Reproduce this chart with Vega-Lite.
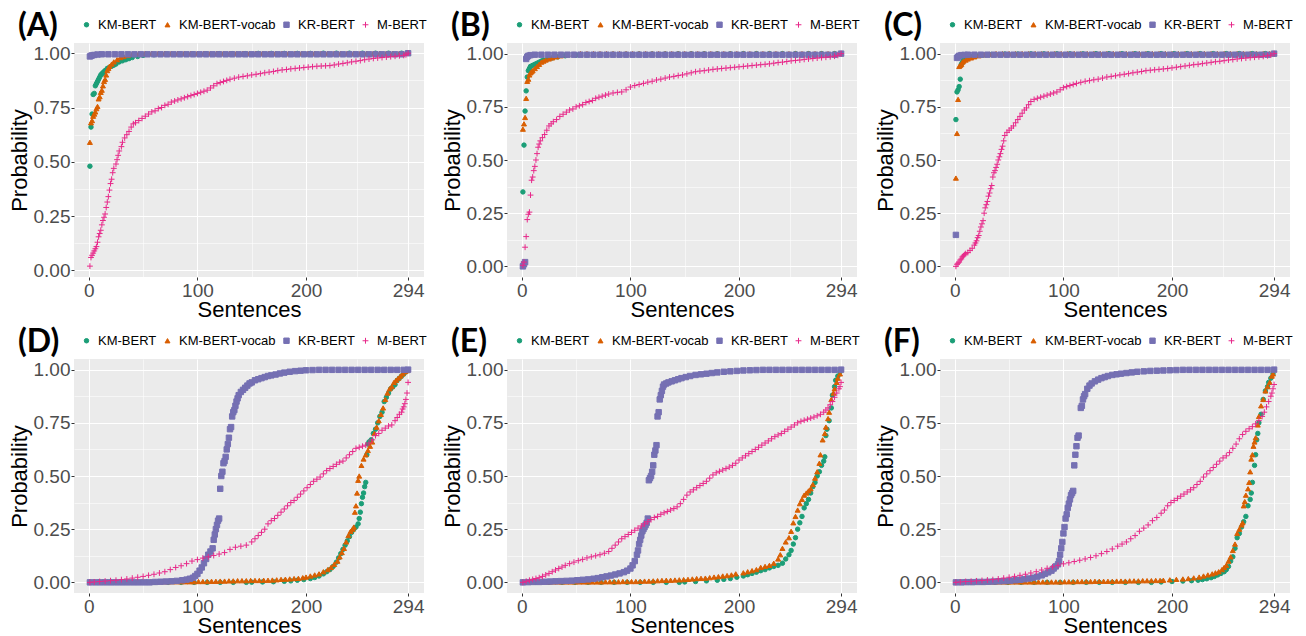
{
"$schema":"https://vega.github.io/schema/vega-lite/v6.json",
"autosize":{"type":"none"},
"padding":{"left":74,"top":43,"right":1232,"bottom":593},
"background":"white",
"config":{
 "view":{"fill":"#EBEBEB","stroke":null},
 "axis":{"domain":false,"labelFont":"Liberation Sans","labelFontSize":19,"labelColor":"#4D4D4D","titleFont":"Liberation Sans","titleFontSize":22,"titleFontWeight":"normal","titleColor":"#000000","tickColor":"#333333","tickSize":3,"tickWidth":1,"gridColor":"#FFFFFF","labelPadding":1},
 "axisX":{"titlePadding":-1},
 "axisY":{"titlePadding":2},
 "legend":{"labelFont":"Liberation Sans","labelFontSize":13,"labelColor":"#000000","symbolSize":36,"symbolStrokeWidth":1,"columnPadding":4,"labelOffset":5,"padding":0},
 "title":{"anchor":"start","frame":"bounds","font":"Lato","fontSize":32,"fontWeight":"bold","color":"#000000","offset":0,"baseline":"alphabetic","dy":29,"dx":10}
},
"datasets":{
"A":[
{"s":"a","x":1,"y":0.48},{"s":"a","x":2,"y":0.66},{"s":"a","x":3,"y":0.72},{"s":"a","x":4,"y":0.81},{"s":"a","x":5,"y":0.815},{"s":"a","x":6,"y":0.85},{"s":"a","x":7,"y":0.86},{"s":"a","x":8,"y":0.87},{"s":"a","x":9,"y":0.88},{"s":"a","x":10,"y":0.89},{"s":"a","x":11,"y":0.9},{"s":"a","x":12,"y":0.905},{"s":"a","x":13,"y":0.91},{"s":"a","x":14,"y":0.915},{"s":"a","x":15,"y":0.92},{"s":"a","x":17,"y":0.93},{"s":"a","x":19,"y":0.935},{"s":"a","x":21,"y":0.94},{"s":"a","x":23,"y":0.945},{"s":"a","x":25,"y":0.95},{"s":"a","x":28,"y":0.96},{"s":"a","x":31,"y":0.965},{"s":"a","x":34,"y":0.97},{"s":"a","x":37,"y":0.975},{"s":"a","x":40,"y":0.98},{"s":"a","x":45,"y":0.985},{"s":"a","x":50,"y":0.99},{"s":"a","x":60,"y":0.993},{"s":"a","x":72,"y":0.995},{"s":"a","x":84,"y":0.996},{"s":"a","x":96,"y":0.997},{"s":"a","x":108,"y":0.997},{"s":"a","x":120,"y":0.998},{"s":"a","x":132,"y":0.998},{"s":"a","x":144,"y":0.998},{"s":"a","x":156,"y":0.999},{"s":"a","x":168,"y":0.999},{"s":"a","x":180,"y":0.999},{"s":"a","x":192,"y":0.999},{"s":"a","x":204,"y":0.999},{"s":"a","x":216,"y":1},{"s":"a","x":228,"y":1},{"s":"a","x":240,"y":1},{"s":"a","x":252,"y":1},{"s":"a","x":264,"y":1},{"s":"a","x":276,"y":1},{"s":"a","x":288,"y":1},{"s":"a","x":294,"y":1},
{"s":"b","x":1,"y":0.59},{"s":"b","x":2,"y":0.68},{"s":"b","x":3,"y":0.69},{"s":"b","x":4,"y":0.71},{"s":"b","x":5,"y":0.72},{"s":"b","x":6,"y":0.73},{"s":"b","x":7,"y":0.745},{"s":"b","x":8,"y":0.755},{"s":"b","x":9,"y":0.79},{"s":"b","x":10,"y":0.8},{"s":"b","x":11,"y":0.82},{"s":"b","x":12,"y":0.83},{"s":"b","x":13,"y":0.85},{"s":"b","x":14,"y":0.87},{"s":"b","x":15,"y":0.88},{"s":"b","x":16,"y":0.9},{"s":"b","x":17,"y":0.92},{"s":"b","x":18,"y":0.93},{"s":"b","x":19,"y":0.94},{"s":"b","x":21,"y":0.95},{"s":"b","x":23,"y":0.96},{"s":"b","x":26,"y":0.97},{"s":"b","x":29,"y":0.98},{"s":"b","x":32,"y":0.985},{"s":"b","x":36,"y":0.99},{"s":"b","x":40,"y":0.995},{"s":"b","x":46,"y":0.998},{"s":"b","x":52,"y":1},{"s":"b","x":58,"y":1},{"s":"b","x":64,"y":1},{"s":"b","x":70,"y":1},{"s":"b","x":76,"y":1},{"s":"b","x":82,"y":1},{"s":"b","x":88,"y":1},{"s":"b","x":94,"y":1},{"s":"b","x":100,"y":1},{"s":"b","x":106,"y":1},{"s":"b","x":112,"y":1},{"s":"b","x":118,"y":1},{"s":"b","x":124,"y":1},{"s":"b","x":130,"y":1},{"s":"b","x":136,"y":1},{"s":"b","x":142,"y":1},{"s":"b","x":148,"y":1},{"s":"b","x":154,"y":1},{"s":"b","x":160,"y":1},{"s":"b","x":166,"y":1},{"s":"b","x":172,"y":1},{"s":"b","x":178,"y":1},{"s":"b","x":184,"y":1},{"s":"b","x":190,"y":1},{"s":"b","x":196,"y":1},{"s":"b","x":202,"y":1},{"s":"b","x":208,"y":1},{"s":"b","x":214,"y":1},{"s":"b","x":220,"y":1},{"s":"b","x":226,"y":1},{"s":"b","x":232,"y":1},{"s":"b","x":238,"y":1},{"s":"b","x":244,"y":1},{"s":"b","x":250,"y":1},{"s":"b","x":256,"y":1},{"s":"b","x":262,"y":1},{"s":"b","x":268,"y":1},{"s":"b","x":274,"y":1},{"s":"b","x":280,"y":1},{"s":"b","x":286,"y":1},{"s":"b","x":292,"y":1},{"s":"b","x":294,"y":1},
{"s":"c","x":1,"y":0.985},{"s":"c","x":2,"y":0.988},{"s":"c","x":3,"y":0.99},{"s":"c","x":5,"y":0.992},{"s":"c","x":8,"y":0.994},{"s":"c","x":12,"y":0.995},{"s":"c","x":18,"y":0.995},{"s":"c","x":24,"y":0.995},{"s":"c","x":30,"y":0.995},{"s":"c","x":36,"y":0.995},{"s":"c","x":42,"y":0.995},{"s":"c","x":48,"y":0.995},{"s":"c","x":54,"y":0.995},{"s":"c","x":60,"y":0.995},{"s":"c","x":66,"y":0.995},{"s":"c","x":72,"y":0.995},{"s":"c","x":78,"y":0.995},{"s":"c","x":84,"y":0.995},{"s":"c","x":90,"y":0.995},{"s":"c","x":96,"y":0.995},{"s":"c","x":102,"y":0.995},{"s":"c","x":108,"y":0.995},{"s":"c","x":114,"y":0.995},{"s":"c","x":120,"y":0.995},{"s":"c","x":126,"y":0.995},{"s":"c","x":132,"y":0.995},{"s":"c","x":138,"y":0.995},{"s":"c","x":144,"y":0.995},{"s":"c","x":150,"y":0.995},{"s":"c","x":156,"y":0.995},{"s":"c","x":162,"y":0.995},{"s":"c","x":168,"y":0.995},{"s":"c","x":174,"y":0.995},{"s":"c","x":180,"y":0.995},{"s":"c","x":186,"y":0.995},{"s":"c","x":192,"y":0.995},{"s":"c","x":198,"y":0.995},{"s":"c","x":204,"y":0.995},{"s":"c","x":210,"y":0.995},{"s":"c","x":216,"y":0.995},{"s":"c","x":222,"y":0.995},{"s":"c","x":228,"y":0.995},{"s":"c","x":234,"y":0.995},{"s":"c","x":240,"y":0.995},{"s":"c","x":246,"y":0.995},{"s":"c","x":252,"y":0.995},{"s":"c","x":258,"y":0.995},{"s":"c","x":264,"y":0.995},{"s":"c","x":270,"y":0.995},{"s":"c","x":276,"y":0.995},{"s":"c","x":282,"y":0.995},{"s":"c","x":288,"y":0.995},{"s":"c","x":294,"y":1},
{"s":"d","x":1,"y":0.02},{"s":"d","x":2,"y":0.06},{"s":"d","x":3,"y":0.07},{"s":"d","x":4,"y":0.08},{"s":"d","x":5,"y":0.09},{"s":"d","x":6,"y":0.1},{"s":"d","x":7,"y":0.11},{"s":"d","x":8,"y":0.13},{"s":"d","x":9,"y":0.155},{"s":"d","x":10,"y":0.17},{"s":"d","x":11,"y":0.185},{"s":"d","x":12,"y":0.21},{"s":"d","x":13,"y":0.23},{"s":"d","x":14,"y":0.245},{"s":"d","x":15,"y":0.26},{"s":"d","x":16,"y":0.29},{"s":"d","x":17,"y":0.315},{"s":"d","x":18,"y":0.34},{"s":"d","x":19,"y":0.37},{"s":"d","x":20,"y":0.4},{"s":"d","x":21,"y":0.42},{"s":"d","x":22,"y":0.45},{"s":"d","x":23,"y":0.47},{"s":"d","x":25,"y":0.49},{"s":"d","x":26,"y":0.51},{"s":"d","x":27,"y":0.53},{"s":"d","x":28,"y":0.55},{"s":"d","x":30,"y":0.57},{"s":"d","x":31,"y":0.59},{"s":"d","x":33,"y":0.61},{"s":"d","x":35,"y":0.625},{"s":"d","x":37,"y":0.64},{"s":"d","x":39,"y":0.66},{"s":"d","x":41,"y":0.675},{"s":"d","x":43,"y":0.68},{"s":"d","x":46,"y":0.69},{"s":"d","x":49,"y":0.7},{"s":"d","x":52,"y":0.71},{"s":"d","x":55,"y":0.72},{"s":"d","x":58,"y":0.73},{"s":"d","x":61,"y":0.735},{"s":"d","x":64,"y":0.745},{"s":"d","x":67,"y":0.75},{"s":"d","x":70,"y":0.76},{"s":"d","x":73,"y":0.765},{"s":"d","x":76,"y":0.775},{"s":"d","x":79,"y":0.78},{"s":"d","x":82,"y":0.785},{"s":"d","x":85,"y":0.79},{"s":"d","x":88,"y":0.795},{"s":"d","x":91,"y":0.8},{"s":"d","x":94,"y":0.805},{"s":"d","x":97,"y":0.81},{"s":"d","x":100,"y":0.815},{"s":"d","x":103,"y":0.82},{"s":"d","x":106,"y":0.825},{"s":"d","x":109,"y":0.83},{"s":"d","x":112,"y":0.84},{"s":"d","x":115,"y":0.85},{"s":"d","x":118,"y":0.86},{"s":"d","x":121,"y":0.865},{"s":"d","x":124,"y":0.87},{"s":"d","x":127,"y":0.875},{"s":"d","x":130,"y":0.88},{"s":"d","x":134,"y":0.885},{"s":"d","x":138,"y":0.89},{"s":"d","x":142,"y":0.893},{"s":"d","x":146,"y":0.896},{"s":"d","x":150,"y":0.9},{"s":"d","x":154,"y":0.903},{"s":"d","x":158,"y":0.906},{"s":"d","x":162,"y":0.91},{"s":"d","x":166,"y":0.913},{"s":"d","x":170,"y":0.916},{"s":"d","x":174,"y":0.92},{"s":"d","x":178,"y":0.923},{"s":"d","x":182,"y":0.925},{"s":"d","x":186,"y":0.928},{"s":"d","x":190,"y":0.93},{"s":"d","x":194,"y":0.932},{"s":"d","x":198,"y":0.934},{"s":"d","x":202,"y":0.936},{"s":"d","x":206,"y":0.938},{"s":"d","x":210,"y":0.94},{"s":"d","x":214,"y":0.941},{"s":"d","x":218,"y":0.942},{"s":"d","x":222,"y":0.943},{"s":"d","x":226,"y":0.946},{"s":"d","x":230,"y":0.95},{"s":"d","x":234,"y":0.953},{"s":"d","x":238,"y":0.956},{"s":"d","x":242,"y":0.96},{"s":"d","x":246,"y":0.963},{"s":"d","x":250,"y":0.966},{"s":"d","x":254,"y":0.97},{"s":"d","x":258,"y":0.973},{"s":"d","x":262,"y":0.976},{"s":"d","x":266,"y":0.978},{"s":"d","x":270,"y":0.98},{"s":"d","x":274,"y":0.982},{"s":"d","x":278,"y":0.984},{"s":"d","x":282,"y":0.986},{"s":"d","x":286,"y":0.988},{"s":"d","x":290,"y":0.99},{"s":"d","x":292,"y":0.993},{"s":"d","x":294,"y":1}
],
"B":[
{"s":"a","x":1,"y":0.35},{"s":"a","x":2,"y":0.57},{"s":"a","x":3,"y":0.73},{"s":"a","x":4,"y":0.825},{"s":"a","x":5,"y":0.89},{"s":"a","x":6,"y":0.92},{"s":"a","x":7,"y":0.93},{"s":"a","x":8,"y":0.94},{"s":"a","x":10,"y":0.945},{"s":"a","x":12,"y":0.95},{"s":"a","x":14,"y":0.955},{"s":"a","x":16,"y":0.96},{"s":"a","x":18,"y":0.965},{"s":"a","x":20,"y":0.97},{"s":"a","x":24,"y":0.975},{"s":"a","x":28,"y":0.98},{"s":"a","x":33,"y":0.985},{"s":"a","x":40,"y":0.99},{"s":"a","x":50,"y":0.993},{"s":"a","x":60,"y":0.995},{"s":"a","x":72,"y":0.996},{"s":"a","x":84,"y":0.997},{"s":"a","x":96,"y":0.997},{"s":"a","x":108,"y":0.998},{"s":"a","x":120,"y":0.998},{"s":"a","x":132,"y":0.998},{"s":"a","x":144,"y":0.999},{"s":"a","x":156,"y":0.999},{"s":"a","x":168,"y":0.999},{"s":"a","x":180,"y":0.999},{"s":"a","x":192,"y":0.999},{"s":"a","x":204,"y":1},{"s":"a","x":216,"y":1},{"s":"a","x":228,"y":1},{"s":"a","x":240,"y":1},{"s":"a","x":252,"y":1},{"s":"a","x":264,"y":1},{"s":"a","x":276,"y":1},{"s":"a","x":288,"y":1},{"s":"a","x":294,"y":1},
{"s":"b","x":1,"y":0.645},{"s":"b","x":2,"y":0.67},{"s":"b","x":3,"y":0.7},{"s":"b","x":4,"y":0.79},{"s":"b","x":5,"y":0.87},{"s":"b","x":6,"y":0.88},{"s":"b","x":7,"y":0.9},{"s":"b","x":8,"y":0.91},{"s":"b","x":9,"y":0.915},{"s":"b","x":10,"y":0.92},{"s":"b","x":12,"y":0.93},{"s":"b","x":14,"y":0.94},{"s":"b","x":16,"y":0.95},{"s":"b","x":18,"y":0.96},{"s":"b","x":20,"y":0.965},{"s":"b","x":22,"y":0.97},{"s":"b","x":25,"y":0.975},{"s":"b","x":28,"y":0.98},{"s":"b","x":32,"y":0.985},{"s":"b","x":36,"y":0.99},{"s":"b","x":42,"y":0.995},{"s":"b","x":48,"y":0.998},{"s":"b","x":54,"y":1},{"s":"b","x":60,"y":1},{"s":"b","x":66,"y":1},{"s":"b","x":72,"y":1},{"s":"b","x":78,"y":1},{"s":"b","x":84,"y":1},{"s":"b","x":90,"y":1},{"s":"b","x":96,"y":1},{"s":"b","x":102,"y":1},{"s":"b","x":108,"y":1},{"s":"b","x":114,"y":1},{"s":"b","x":120,"y":1},{"s":"b","x":126,"y":1},{"s":"b","x":132,"y":1},{"s":"b","x":138,"y":1},{"s":"b","x":144,"y":1},{"s":"b","x":150,"y":1},{"s":"b","x":156,"y":1},{"s":"b","x":162,"y":1},{"s":"b","x":168,"y":1},{"s":"b","x":174,"y":1},{"s":"b","x":180,"y":1},{"s":"b","x":186,"y":1},{"s":"b","x":192,"y":1},{"s":"b","x":198,"y":1},{"s":"b","x":204,"y":1},{"s":"b","x":210,"y":1},{"s":"b","x":216,"y":1},{"s":"b","x":222,"y":1},{"s":"b","x":228,"y":1},{"s":"b","x":234,"y":1},{"s":"b","x":240,"y":1},{"s":"b","x":246,"y":1},{"s":"b","x":252,"y":1},{"s":"b","x":258,"y":1},{"s":"b","x":264,"y":1},{"s":"b","x":270,"y":1},{"s":"b","x":276,"y":1},{"s":"b","x":282,"y":1},{"s":"b","x":288,"y":1},{"s":"b","x":294,"y":1},
{"s":"c","x":1,"y":0},{"s":"c","x":2,"y":0.01},{"s":"c","x":3,"y":0.02},{"s":"c","x":4,"y":0.975},{"s":"c","x":5,"y":0.985},{"s":"c","x":6,"y":0.99},{"s":"c","x":8,"y":0.993},{"s":"c","x":12,"y":0.995},{"s":"c","x":18,"y":0.995},{"s":"c","x":24,"y":0.995},{"s":"c","x":30,"y":0.995},{"s":"c","x":36,"y":0.995},{"s":"c","x":42,"y":0.995},{"s":"c","x":48,"y":0.995},{"s":"c","x":54,"y":0.995},{"s":"c","x":60,"y":0.995},{"s":"c","x":66,"y":0.995},{"s":"c","x":72,"y":0.995},{"s":"c","x":78,"y":0.995},{"s":"c","x":84,"y":0.995},{"s":"c","x":90,"y":0.995},{"s":"c","x":96,"y":0.995},{"s":"c","x":102,"y":0.995},{"s":"c","x":108,"y":0.995},{"s":"c","x":114,"y":0.995},{"s":"c","x":120,"y":0.995},{"s":"c","x":126,"y":0.995},{"s":"c","x":132,"y":0.995},{"s":"c","x":138,"y":0.995},{"s":"c","x":144,"y":0.995},{"s":"c","x":150,"y":0.995},{"s":"c","x":156,"y":0.995},{"s":"c","x":162,"y":0.995},{"s":"c","x":168,"y":0.995},{"s":"c","x":174,"y":0.995},{"s":"c","x":180,"y":0.995},{"s":"c","x":186,"y":0.995},{"s":"c","x":192,"y":0.995},{"s":"c","x":198,"y":0.995},{"s":"c","x":204,"y":0.995},{"s":"c","x":210,"y":0.995},{"s":"c","x":216,"y":0.995},{"s":"c","x":222,"y":0.995},{"s":"c","x":228,"y":0.995},{"s":"c","x":234,"y":0.995},{"s":"c","x":240,"y":0.995},{"s":"c","x":246,"y":0.995},{"s":"c","x":252,"y":0.995},{"s":"c","x":258,"y":0.995},{"s":"c","x":264,"y":0.995},{"s":"c","x":270,"y":0.995},{"s":"c","x":276,"y":0.995},{"s":"c","x":282,"y":0.995},{"s":"c","x":288,"y":0.995},{"s":"c","x":294,"y":1},
{"s":"d","x":1,"y":0.005},{"s":"d","x":2,"y":0.02},{"s":"d","x":3,"y":0.09},{"s":"d","x":4,"y":0.14},{"s":"d","x":5,"y":0.22},{"s":"d","x":6,"y":0.245},{"s":"d","x":7,"y":0.255},{"s":"d","x":8,"y":0.335},{"s":"d","x":9,"y":0.405},{"s":"d","x":10,"y":0.42},{"s":"d","x":11,"y":0.45},{"s":"d","x":12,"y":0.47},{"s":"d","x":13,"y":0.5},{"s":"d","x":14,"y":0.53},{"s":"d","x":15,"y":0.56},{"s":"d","x":16,"y":0.575},{"s":"d","x":17,"y":0.59},{"s":"d","x":19,"y":0.605},{"s":"d","x":21,"y":0.62},{"s":"d","x":23,"y":0.64},{"s":"d","x":25,"y":0.66},{"s":"d","x":27,"y":0.67},{"s":"d","x":29,"y":0.68},{"s":"d","x":32,"y":0.69},{"s":"d","x":35,"y":0.705},{"s":"d","x":38,"y":0.715},{"s":"d","x":41,"y":0.725},{"s":"d","x":44,"y":0.735},{"s":"d","x":47,"y":0.74},{"s":"d","x":50,"y":0.75},{"s":"d","x":53,"y":0.755},{"s":"d","x":56,"y":0.76},{"s":"d","x":59,"y":0.77},{"s":"d","x":62,"y":0.775},{"s":"d","x":65,"y":0.78},{"s":"d","x":68,"y":0.79},{"s":"d","x":71,"y":0.795},{"s":"d","x":74,"y":0.8},{"s":"d","x":77,"y":0.805},{"s":"d","x":80,"y":0.81},{"s":"d","x":84,"y":0.815},{"s":"d","x":88,"y":0.818},{"s":"d","x":92,"y":0.82},{"s":"d","x":96,"y":0.83},{"s":"d","x":100,"y":0.843},{"s":"d","x":104,"y":0.85},{"s":"d","x":108,"y":0.855},{"s":"d","x":112,"y":0.86},{"s":"d","x":116,"y":0.866},{"s":"d","x":120,"y":0.87},{"s":"d","x":124,"y":0.876},{"s":"d","x":128,"y":0.88},{"s":"d","x":132,"y":0.885},{"s":"d","x":136,"y":0.89},{"s":"d","x":140,"y":0.893},{"s":"d","x":144,"y":0.897},{"s":"d","x":148,"y":0.9},{"s":"d","x":152,"y":0.905},{"s":"d","x":156,"y":0.91},{"s":"d","x":160,"y":0.915},{"s":"d","x":164,"y":0.918},{"s":"d","x":168,"y":0.92},{"s":"d","x":172,"y":0.923},{"s":"d","x":176,"y":0.926},{"s":"d","x":180,"y":0.928},{"s":"d","x":184,"y":0.93},{"s":"d","x":188,"y":0.932},{"s":"d","x":192,"y":0.934},{"s":"d","x":196,"y":0.936},{"s":"d","x":200,"y":0.938},{"s":"d","x":204,"y":0.94},{"s":"d","x":208,"y":0.942},{"s":"d","x":212,"y":0.944},{"s":"d","x":216,"y":0.946},{"s":"d","x":220,"y":0.948},{"s":"d","x":224,"y":0.95},{"s":"d","x":228,"y":0.952},{"s":"d","x":232,"y":0.955},{"s":"d","x":236,"y":0.958},{"s":"d","x":240,"y":0.96},{"s":"d","x":244,"y":0.963},{"s":"d","x":248,"y":0.966},{"s":"d","x":252,"y":0.968},{"s":"d","x":256,"y":0.97},{"s":"d","x":260,"y":0.973},{"s":"d","x":264,"y":0.975},{"s":"d","x":268,"y":0.977},{"s":"d","x":272,"y":0.979},{"s":"d","x":276,"y":0.981},{"s":"d","x":280,"y":0.983},{"s":"d","x":284,"y":0.985},{"s":"d","x":288,"y":0.988},{"s":"d","x":291,"y":0.992},{"s":"d","x":294,"y":1}
],
"C":[
{"s":"a","x":1,"y":0.69},{"s":"a","x":2,"y":0.82},{"s":"a","x":3,"y":0.83},{"s":"a","x":4,"y":0.845},{"s":"a","x":5,"y":0.88},{"s":"a","x":6,"y":0.95},{"s":"a","x":7,"y":0.96},{"s":"a","x":8,"y":0.97},{"s":"a","x":10,"y":0.975},{"s":"a","x":12,"y":0.98},{"s":"a","x":15,"y":0.985},{"s":"a","x":20,"y":0.99},{"s":"a","x":26,"y":0.993},{"s":"a","x":34,"y":0.996},{"s":"a","x":46,"y":0.998},{"s":"a","x":58,"y":0.998},{"s":"a","x":70,"y":0.999},{"s":"a","x":82,"y":0.999},{"s":"a","x":94,"y":0.999},{"s":"a","x":106,"y":0.999},{"s":"a","x":118,"y":0.999},{"s":"a","x":130,"y":1},{"s":"a","x":142,"y":1},{"s":"a","x":154,"y":1},{"s":"a","x":166,"y":1},{"s":"a","x":178,"y":1},{"s":"a","x":190,"y":1},{"s":"a","x":202,"y":1},{"s":"a","x":214,"y":1},{"s":"a","x":226,"y":1},{"s":"a","x":238,"y":1},{"s":"a","x":250,"y":1},{"s":"a","x":262,"y":1},{"s":"a","x":274,"y":1},{"s":"a","x":286,"y":1},{"s":"a","x":294,"y":1},
{"s":"b","x":1,"y":0.415},{"s":"b","x":2,"y":0.625},{"s":"b","x":3,"y":0.785},{"s":"b","x":4,"y":0.94},{"s":"b","x":5,"y":0.945},{"s":"b","x":6,"y":0.95},{"s":"b","x":7,"y":0.96},{"s":"b","x":8,"y":0.965},{"s":"b","x":10,"y":0.97},{"s":"b","x":12,"y":0.975},{"s":"b","x":15,"y":0.98},{"s":"b","x":18,"y":0.985},{"s":"b","x":22,"y":0.99},{"s":"b","x":27,"y":0.995},{"s":"b","x":32,"y":0.998},{"s":"b","x":38,"y":1},{"s":"b","x":44,"y":1},{"s":"b","x":50,"y":1},{"s":"b","x":56,"y":1},{"s":"b","x":62,"y":1},{"s":"b","x":68,"y":1},{"s":"b","x":74,"y":1},{"s":"b","x":80,"y":1},{"s":"b","x":86,"y":1},{"s":"b","x":92,"y":1},{"s":"b","x":98,"y":1},{"s":"b","x":104,"y":1},{"s":"b","x":110,"y":1},{"s":"b","x":116,"y":1},{"s":"b","x":122,"y":1},{"s":"b","x":128,"y":1},{"s":"b","x":134,"y":1},{"s":"b","x":140,"y":1},{"s":"b","x":146,"y":1},{"s":"b","x":152,"y":1},{"s":"b","x":158,"y":1},{"s":"b","x":164,"y":1},{"s":"b","x":170,"y":1},{"s":"b","x":176,"y":1},{"s":"b","x":182,"y":1},{"s":"b","x":188,"y":1},{"s":"b","x":194,"y":1},{"s":"b","x":200,"y":1},{"s":"b","x":206,"y":1},{"s":"b","x":212,"y":1},{"s":"b","x":218,"y":1},{"s":"b","x":224,"y":1},{"s":"b","x":230,"y":1},{"s":"b","x":236,"y":1},{"s":"b","x":242,"y":1},{"s":"b","x":248,"y":1},{"s":"b","x":254,"y":1},{"s":"b","x":260,"y":1},{"s":"b","x":266,"y":1},{"s":"b","x":272,"y":1},{"s":"b","x":278,"y":1},{"s":"b","x":284,"y":1},{"s":"b","x":290,"y":1},{"s":"b","x":294,"y":1},
{"s":"c","x":1,"y":0.148},{"s":"c","x":2,"y":0.98},{"s":"c","x":3,"y":0.985},{"s":"c","x":4,"y":0.99},{"s":"c","x":6,"y":0.993},{"s":"c","x":9,"y":0.994},{"s":"c","x":12,"y":0.995},{"s":"c","x":18,"y":0.995},{"s":"c","x":24,"y":0.995},{"s":"c","x":30,"y":0.995},{"s":"c","x":36,"y":0.995},{"s":"c","x":42,"y":0.995},{"s":"c","x":48,"y":0.995},{"s":"c","x":54,"y":0.995},{"s":"c","x":60,"y":0.995},{"s":"c","x":66,"y":0.995},{"s":"c","x":72,"y":0.995},{"s":"c","x":78,"y":0.995},{"s":"c","x":84,"y":0.995},{"s":"c","x":90,"y":0.995},{"s":"c","x":96,"y":0.995},{"s":"c","x":102,"y":0.995},{"s":"c","x":108,"y":0.995},{"s":"c","x":114,"y":0.995},{"s":"c","x":120,"y":0.995},{"s":"c","x":126,"y":0.995},{"s":"c","x":132,"y":0.995},{"s":"c","x":138,"y":0.995},{"s":"c","x":144,"y":0.995},{"s":"c","x":150,"y":0.995},{"s":"c","x":156,"y":0.995},{"s":"c","x":162,"y":0.995},{"s":"c","x":168,"y":0.995},{"s":"c","x":174,"y":0.995},{"s":"c","x":180,"y":0.995},{"s":"c","x":186,"y":0.995},{"s":"c","x":192,"y":0.995},{"s":"c","x":198,"y":0.995},{"s":"c","x":204,"y":0.995},{"s":"c","x":210,"y":0.995},{"s":"c","x":216,"y":0.995},{"s":"c","x":222,"y":0.995},{"s":"c","x":228,"y":0.995},{"s":"c","x":234,"y":0.995},{"s":"c","x":240,"y":0.995},{"s":"c","x":246,"y":0.995},{"s":"c","x":252,"y":0.995},{"s":"c","x":258,"y":0.995},{"s":"c","x":264,"y":0.995},{"s":"c","x":270,"y":0.995},{"s":"c","x":276,"y":0.995},{"s":"c","x":282,"y":0.995},{"s":"c","x":288,"y":0.995},{"s":"c","x":294,"y":1},
{"s":"d","x":1,"y":0},{"s":"d","x":2,"y":0.01},{"s":"d","x":3,"y":0.015},{"s":"d","x":4,"y":0.02},{"s":"d","x":5,"y":0.03},{"s":"d","x":6,"y":0.035},{"s":"d","x":7,"y":0.045},{"s":"d","x":8,"y":0.05},{"s":"d","x":9,"y":0.055},{"s":"d","x":10,"y":0.06},{"s":"d","x":12,"y":0.065},{"s":"d","x":14,"y":0.075},{"s":"d","x":16,"y":0.085},{"s":"d","x":18,"y":0.1},{"s":"d","x":19,"y":0.11},{"s":"d","x":20,"y":0.12},{"s":"d","x":21,"y":0.135},{"s":"d","x":22,"y":0.145},{"s":"d","x":23,"y":0.165},{"s":"d","x":24,"y":0.185},{"s":"d","x":25,"y":0.2},{"s":"d","x":26,"y":0.215},{"s":"d","x":27,"y":0.25},{"s":"d","x":28,"y":0.275},{"s":"d","x":29,"y":0.29},{"s":"d","x":30,"y":0.305},{"s":"d","x":31,"y":0.33},{"s":"d","x":32,"y":0.345},{"s":"d","x":33,"y":0.365},{"s":"d","x":34,"y":0.38},{"s":"d","x":35,"y":0.42},{"s":"d","x":36,"y":0.44},{"s":"d","x":37,"y":0.45},{"s":"d","x":38,"y":0.465},{"s":"d","x":39,"y":0.48},{"s":"d","x":40,"y":0.5},{"s":"d","x":41,"y":0.515},{"s":"d","x":42,"y":0.53},{"s":"d","x":43,"y":0.55},{"s":"d","x":44,"y":0.565},{"s":"d","x":45,"y":0.59},{"s":"d","x":46,"y":0.615},{"s":"d","x":48,"y":0.63},{"s":"d","x":50,"y":0.64},{"s":"d","x":52,"y":0.65},{"s":"d","x":54,"y":0.66},{"s":"d","x":56,"y":0.675},{"s":"d","x":58,"y":0.69},{"s":"d","x":60,"y":0.705},{"s":"d","x":62,"y":0.72},{"s":"d","x":64,"y":0.735},{"s":"d","x":66,"y":0.745},{"s":"d","x":68,"y":0.76},{"s":"d","x":70,"y":0.775},{"s":"d","x":73,"y":0.785},{"s":"d","x":76,"y":0.79},{"s":"d","x":79,"y":0.795},{"s":"d","x":82,"y":0.8},{"s":"d","x":85,"y":0.805},{"s":"d","x":88,"y":0.81},{"s":"d","x":91,"y":0.815},{"s":"d","x":94,"y":0.82},{"s":"d","x":97,"y":0.83},{"s":"d","x":100,"y":0.84},{"s":"d","x":103,"y":0.845},{"s":"d","x":106,"y":0.85},{"s":"d","x":109,"y":0.855},{"s":"d","x":112,"y":0.86},{"s":"d","x":116,"y":0.865},{"s":"d","x":120,"y":0.87},{"s":"d","x":124,"y":0.873},{"s":"d","x":128,"y":0.877},{"s":"d","x":132,"y":0.88},{"s":"d","x":136,"y":0.885},{"s":"d","x":140,"y":0.89},{"s":"d","x":144,"y":0.893},{"s":"d","x":148,"y":0.896},{"s":"d","x":152,"y":0.9},{"s":"d","x":156,"y":0.903},{"s":"d","x":160,"y":0.906},{"s":"d","x":164,"y":0.91},{"s":"d","x":168,"y":0.913},{"s":"d","x":172,"y":0.916},{"s":"d","x":176,"y":0.92},{"s":"d","x":180,"y":0.922},{"s":"d","x":184,"y":0.924},{"s":"d","x":188,"y":0.926},{"s":"d","x":192,"y":0.928},{"s":"d","x":196,"y":0.93},{"s":"d","x":200,"y":0.933},{"s":"d","x":204,"y":0.936},{"s":"d","x":208,"y":0.939},{"s":"d","x":212,"y":0.942},{"s":"d","x":216,"y":0.945},{"s":"d","x":220,"y":0.948},{"s":"d","x":224,"y":0.95},{"s":"d","x":228,"y":0.953},{"s":"d","x":232,"y":0.956},{"s":"d","x":236,"y":0.959},{"s":"d","x":240,"y":0.962},{"s":"d","x":244,"y":0.964},{"s":"d","x":248,"y":0.967},{"s":"d","x":252,"y":0.97},{"s":"d","x":256,"y":0.972},{"s":"d","x":260,"y":0.975},{"s":"d","x":264,"y":0.977},{"s":"d","x":268,"y":0.979},{"s":"d","x":272,"y":0.981},{"s":"d","x":276,"y":0.983},{"s":"d","x":280,"y":0.985},{"s":"d","x":284,"y":0.987},{"s":"d","x":288,"y":0.99},{"s":"d","x":291,"y":0.993},{"s":"d","x":294,"y":1}
],
"D":[
{"s":"a","x":1,"y":0},{"s":"a","x":13,"y":0},{"s":"a","x":25,"y":0},{"s":"a","x":37,"y":0},{"s":"a","x":49,"y":0},{"s":"a","x":61,"y":0},{"s":"a","x":73,"y":0},{"s":"a","x":85,"y":0},{"s":"a","x":97,"y":0},{"s":"a","x":109,"y":0},{"s":"a","x":121,"y":0},{"s":"a","x":133,"y":0},{"s":"a","x":145,"y":0},{"s":"a","x":150,"y":0.001},{"s":"a","x":160,"y":0.002},{"s":"a","x":170,"y":0.003},{"s":"a","x":180,"y":0.005},{"s":"a","x":186,"y":0.007},{"s":"a","x":192,"y":0.01},{"s":"a","x":198,"y":0.013},{"s":"a","x":204,"y":0.018},{"s":"a","x":208,"y":0.023},{"s":"a","x":212,"y":0.03},{"s":"a","x":216,"y":0.04},{"s":"a","x":219,"y":0.05},{"s":"a","x":222,"y":0.06},{"s":"a","x":225,"y":0.075},{"s":"a","x":228,"y":0.095},{"s":"a","x":230,"y":0.115},{"s":"a","x":232,"y":0.135},{"s":"a","x":234,"y":0.155},{"s":"a","x":236,"y":0.175},{"s":"a","x":238,"y":0.195},{"s":"a","x":240,"y":0.215},{"s":"a","x":242,"y":0.235},{"s":"a","x":244,"y":0.25},{"s":"a","x":246,"y":0.26},{"s":"a","x":248,"y":0.275},{"s":"a","x":249,"y":0.3},{"s":"a","x":250,"y":0.33},{"s":"a","x":251,"y":0.37},{"s":"a","x":252,"y":0.4},{"s":"a","x":253,"y":0.42},{"s":"a","x":254,"y":0.45},{"s":"a","x":255,"y":0.47},{"s":"a","x":256,"y":0.6},{"s":"a","x":257,"y":0.65},{"s":"a","x":258,"y":0.66},{"s":"a","x":260,"y":0.67},{"s":"a","x":262,"y":0.7},{"s":"a","x":264,"y":0.72},{"s":"a","x":266,"y":0.75},{"s":"a","x":268,"y":0.78},{"s":"a","x":270,"y":0.8},{"s":"a","x":272,"y":0.85},{"s":"a","x":274,"y":0.87},{"s":"a","x":276,"y":0.89},{"s":"a","x":278,"y":0.91},{"s":"a","x":280,"y":0.92},{"s":"a","x":282,"y":0.93},{"s":"a","x":284,"y":0.95},{"s":"a","x":286,"y":0.96},{"s":"a","x":288,"y":0.97},{"s":"a","x":290,"y":0.98},{"s":"a","x":292,"y":0.99},{"s":"a","x":294,"y":1},
{"s":"b","x":1,"y":0.003},{"s":"b","x":5,"y":0.003},{"s":"b","x":9,"y":0.003},{"s":"b","x":13,"y":0.003},{"s":"b","x":17,"y":0.003},{"s":"b","x":21,"y":0.003},{"s":"b","x":25,"y":0.003},{"s":"b","x":29,"y":0.003},{"s":"b","x":33,"y":0.003},{"s":"b","x":37,"y":0.003},{"s":"b","x":41,"y":0.003},{"s":"b","x":45,"y":0.003},{"s":"b","x":49,"y":0.003},{"s":"b","x":53,"y":0.003},{"s":"b","x":57,"y":0.003},{"s":"b","x":61,"y":0.003},{"s":"b","x":65,"y":0.003},{"s":"b","x":69,"y":0.003},{"s":"b","x":73,"y":0.003},{"s":"b","x":77,"y":0.003},{"s":"b","x":81,"y":0.003},{"s":"b","x":85,"y":0.003},{"s":"b","x":89,"y":0.003},{"s":"b","x":93,"y":0.003},{"s":"b","x":97,"y":0.003},{"s":"b","x":101,"y":0.004},{"s":"b","x":105,"y":0.004},{"s":"b","x":109,"y":0.004},{"s":"b","x":113,"y":0.005},{"s":"b","x":117,"y":0.005},{"s":"b","x":121,"y":0.006},{"s":"b","x":125,"y":0.006},{"s":"b","x":129,"y":0.007},{"s":"b","x":133,"y":0.007},{"s":"b","x":137,"y":0.008},{"s":"b","x":141,"y":0.008},{"s":"b","x":145,"y":0.008},{"s":"b","x":149,"y":0.009},{"s":"b","x":153,"y":0.009},{"s":"b","x":157,"y":0.009},{"s":"b","x":161,"y":0.01},{"s":"b","x":165,"y":0.01},{"s":"b","x":169,"y":0.011},{"s":"b","x":173,"y":0.012},{"s":"b","x":177,"y":0.014},{"s":"b","x":181,"y":0.015},{"s":"b","x":185,"y":0.016},{"s":"b","x":189,"y":0.018},{"s":"b","x":193,"y":0.019},{"s":"b","x":197,"y":0.022},{"s":"b","x":200,"y":0.025},{"s":"b","x":204,"y":0.03},{"s":"b","x":208,"y":0.035},{"s":"b","x":212,"y":0.04},{"s":"b","x":216,"y":0.05},{"s":"b","x":220,"y":0.06},{"s":"b","x":223,"y":0.07},{"s":"b","x":226,"y":0.085},{"s":"b","x":229,"y":0.1},{"s":"b","x":231,"y":0.12},{"s":"b","x":233,"y":0.14},{"s":"b","x":235,"y":0.16},{"s":"b","x":237,"y":0.19},{"s":"b","x":239,"y":0.22},{"s":"b","x":241,"y":0.24},{"s":"b","x":243,"y":0.25},{"s":"b","x":244,"y":0.26},{"s":"b","x":245,"y":0.33},{"s":"b","x":246,"y":0.36},{"s":"b","x":247,"y":0.42},{"s":"b","x":248,"y":0.48},{"s":"b","x":249,"y":0.5},{"s":"b","x":251,"y":0.55},{"s":"b","x":253,"y":0.58},{"s":"b","x":255,"y":0.6},{"s":"b","x":257,"y":0.62},{"s":"b","x":259,"y":0.64},{"s":"b","x":261,"y":0.66},{"s":"b","x":263,"y":0.7},{"s":"b","x":265,"y":0.73},{"s":"b","x":267,"y":0.76},{"s":"b","x":269,"y":0.79},{"s":"b","x":271,"y":0.82},{"s":"b","x":273,"y":0.86},{"s":"b","x":275,"y":0.89},{"s":"b","x":277,"y":0.91},{"s":"b","x":279,"y":0.92},{"s":"b","x":281,"y":0.94},{"s":"b","x":283,"y":0.95},{"s":"b","x":285,"y":0.96},{"s":"b","x":287,"y":0.97},{"s":"b","x":289,"y":0.98},{"s":"b","x":291,"y":0.99},{"s":"b","x":293,"y":0.995},{"s":"b","x":294,"y":1},
{"s":"c","x":1,"y":0},{"s":"c","x":6,"y":0},{"s":"c","x":11,"y":0},{"s":"c","x":16,"y":0},{"s":"c","x":21,"y":0},{"s":"c","x":26,"y":0},{"s":"c","x":31,"y":0},{"s":"c","x":36,"y":0},{"s":"c","x":41,"y":0},{"s":"c","x":46,"y":0},{"s":"c","x":51,"y":0},{"s":"c","x":56,"y":0},{"s":"c","x":61,"y":0.002},{"s":"c","x":66,"y":0.003},{"s":"c","x":71,"y":0.004},{"s":"c","x":76,"y":0.005},{"s":"c","x":81,"y":0.007},{"s":"c","x":86,"y":0.01},{"s":"c","x":90,"y":0.013},{"s":"c","x":93,"y":0.017},{"s":"c","x":96,"y":0.022},{"s":"c","x":98,"y":0.03},{"s":"c","x":100,"y":0.04},{"s":"c","x":102,"y":0.055},{"s":"c","x":104,"y":0.07},{"s":"c","x":106,"y":0.09},{"s":"c","x":108,"y":0.11},{"s":"c","x":110,"y":0.13},{"s":"c","x":112,"y":0.145},{"s":"c","x":114,"y":0.16},{"s":"c","x":115,"y":0.2},{"s":"c","x":116,"y":0.225},{"s":"c","x":117,"y":0.25},{"s":"c","x":118,"y":0.27},{"s":"c","x":119,"y":0.29},{"s":"c","x":120,"y":0.3},{"s":"c","x":121,"y":0.44},{"s":"c","x":122,"y":0.5},{"s":"c","x":123,"y":0.52},{"s":"c","x":124,"y":0.56},{"s":"c","x":125,"y":0.57},{"s":"c","x":126,"y":0.59},{"s":"c","x":127,"y":0.625},{"s":"c","x":128,"y":0.65},{"s":"c","x":129,"y":0.68},{"s":"c","x":130,"y":0.72},{"s":"c","x":131,"y":0.73},{"s":"c","x":132,"y":0.78},{"s":"c","x":133,"y":0.8},{"s":"c","x":134,"y":0.81},{"s":"c","x":135,"y":0.83},{"s":"c","x":136,"y":0.85},{"s":"c","x":137,"y":0.865},{"s":"c","x":138,"y":0.88},{"s":"c","x":140,"y":0.895},{"s":"c","x":142,"y":0.905},{"s":"c","x":144,"y":0.915},{"s":"c","x":146,"y":0.925},{"s":"c","x":148,"y":0.935},{"s":"c","x":150,"y":0.94},{"s":"c","x":153,"y":0.95},{"s":"c","x":156,"y":0.955},{"s":"c","x":159,"y":0.96},{"s":"c","x":162,"y":0.965},{"s":"c","x":165,"y":0.97},{"s":"c","x":168,"y":0.973},{"s":"c","x":172,"y":0.977},{"s":"c","x":176,"y":0.982},{"s":"c","x":180,"y":0.986},{"s":"c","x":185,"y":0.99},{"s":"c","x":190,"y":0.993},{"s":"c","x":195,"y":0.995},{"s":"c","x":200,"y":0.997},{"s":"c","x":206,"y":0.998},{"s":"c","x":212,"y":0.999},{"s":"c","x":218,"y":0.999},{"s":"c","x":224,"y":0.999},{"s":"c","x":230,"y":0.999},{"s":"c","x":236,"y":0.999},{"s":"c","x":242,"y":0.999},{"s":"c","x":248,"y":0.999},{"s":"c","x":254,"y":0.999},{"s":"c","x":260,"y":0.999},{"s":"c","x":266,"y":0.999},{"s":"c","x":272,"y":0.999},{"s":"c","x":278,"y":0.999},{"s":"c","x":284,"y":0.999},{"s":"c","x":290,"y":0.999},{"s":"c","x":294,"y":1},
{"s":"d","x":1,"y":0},{"s":"d","x":5,"y":0.002},{"s":"d","x":10,"y":0.004},{"s":"d","x":15,"y":0.006},{"s":"d","x":20,"y":0.008},{"s":"d","x":25,"y":0.01},{"s":"d","x":30,"y":0.013},{"s":"d","x":35,"y":0.016},{"s":"d","x":40,"y":0.02},{"s":"d","x":45,"y":0.024},{"s":"d","x":50,"y":0.028},{"s":"d","x":55,"y":0.033},{"s":"d","x":60,"y":0.038},{"s":"d","x":65,"y":0.044},{"s":"d","x":70,"y":0.05},{"s":"d","x":75,"y":0.06},{"s":"d","x":80,"y":0.07},{"s":"d","x":85,"y":0.078},{"s":"d","x":90,"y":0.088},{"s":"d","x":95,"y":0.1},{"s":"d","x":100,"y":0.107},{"s":"d","x":105,"y":0.114},{"s":"d","x":110,"y":0.12},{"s":"d","x":115,"y":0.126},{"s":"d","x":120,"y":0.133},{"s":"d","x":125,"y":0.14},{"s":"d","x":130,"y":0.155},{"s":"d","x":135,"y":0.165},{"s":"d","x":140,"y":0.17},{"s":"d","x":145,"y":0.175},{"s":"d","x":150,"y":0.19},{"s":"d","x":153,"y":0.205},{"s":"d","x":156,"y":0.22},{"s":"d","x":159,"y":0.235},{"s":"d","x":162,"y":0.25},{"s":"d","x":165,"y":0.275},{"s":"d","x":168,"y":0.29},{"s":"d","x":171,"y":0.3},{"s":"d","x":174,"y":0.315},{"s":"d","x":177,"y":0.33},{"s":"d","x":180,"y":0.345},{"s":"d","x":183,"y":0.36},{"s":"d","x":186,"y":0.375},{"s":"d","x":189,"y":0.385},{"s":"d","x":192,"y":0.4},{"s":"d","x":195,"y":0.415},{"s":"d","x":198,"y":0.43},{"s":"d","x":201,"y":0.445},{"s":"d","x":204,"y":0.46},{"s":"d","x":207,"y":0.475},{"s":"d","x":210,"y":0.485},{"s":"d","x":213,"y":0.495},{"s":"d","x":216,"y":0.51},{"s":"d","x":219,"y":0.525},{"s":"d","x":222,"y":0.535},{"s":"d","x":225,"y":0.545},{"s":"d","x":228,"y":0.555},{"s":"d","x":231,"y":0.565},{"s":"d","x":234,"y":0.57},{"s":"d","x":237,"y":0.585},{"s":"d","x":240,"y":0.6},{"s":"d","x":243,"y":0.615},{"s":"d","x":246,"y":0.63},{"s":"d","x":249,"y":0.635},{"s":"d","x":252,"y":0.64},{"s":"d","x":255,"y":0.645},{"s":"d","x":258,"y":0.655},{"s":"d","x":261,"y":0.67},{"s":"d","x":264,"y":0.69},{"s":"d","x":267,"y":0.7},{"s":"d","x":270,"y":0.715},{"s":"d","x":273,"y":0.725},{"s":"d","x":276,"y":0.735},{"s":"d","x":279,"y":0.74},{"s":"d","x":282,"y":0.76},{"s":"d","x":284,"y":0.775},{"s":"d","x":286,"y":0.79},{"s":"d","x":288,"y":0.8},{"s":"d","x":289,"y":0.815},{"s":"d","x":290,"y":0.825},{"s":"d","x":291,"y":0.84},{"s":"d","x":292,"y":0.86},{"s":"d","x":293,"y":0.89},{"s":"d","x":294,"y":0.94}
],
"E":[
{"s":"a","x":1,"y":0},{"s":"a","x":13,"y":0},{"s":"a","x":25,"y":0},{"s":"a","x":37,"y":0},{"s":"a","x":49,"y":0},{"s":"a","x":61,"y":0},{"s":"a","x":73,"y":0},{"s":"a","x":85,"y":0},{"s":"a","x":97,"y":0},{"s":"a","x":109,"y":0},{"s":"a","x":121,"y":0},{"s":"a","x":133,"y":0},{"s":"a","x":145,"y":0},{"s":"a","x":150,"y":0.002},{"s":"a","x":160,"y":0.004},{"s":"a","x":170,"y":0.007},{"s":"a","x":180,"y":0.01},{"s":"a","x":186,"y":0.014},{"s":"a","x":192,"y":0.018},{"s":"a","x":198,"y":0.024},{"s":"a","x":204,"y":0.03},{"s":"a","x":208,"y":0.036},{"s":"a","x":212,"y":0.042},{"s":"a","x":216,"y":0.048},{"s":"a","x":220,"y":0.055},{"s":"a","x":224,"y":0.06},{"s":"a","x":228,"y":0.068},{"s":"a","x":232,"y":0.075},{"s":"a","x":236,"y":0.08},{"s":"a","x":240,"y":0.09},{"s":"a","x":243,"y":0.11},{"s":"a","x":246,"y":0.13},{"s":"a","x":248,"y":0.15},{"s":"a","x":250,"y":0.18},{"s":"a","x":252,"y":0.21},{"s":"a","x":254,"y":0.25},{"s":"a","x":256,"y":0.28},{"s":"a","x":258,"y":0.31},{"s":"a","x":260,"y":0.35},{"s":"a","x":262,"y":0.37},{"s":"a","x":264,"y":0.39},{"s":"a","x":266,"y":0.42},{"s":"a","x":268,"y":0.45},{"s":"a","x":270,"y":0.47},{"s":"a","x":272,"y":0.5},{"s":"a","x":274,"y":0.52},{"s":"a","x":276,"y":0.55},{"s":"a","x":278,"y":0.57},{"s":"a","x":279,"y":0.59},{"s":"a","x":280,"y":0.69},{"s":"a","x":281,"y":0.72},{"s":"a","x":283,"y":0.76},{"s":"a","x":285,"y":0.82},{"s":"a","x":286,"y":0.88},{"s":"a","x":288,"y":0.92},{"s":"a","x":289,"y":0.95},{"s":"a","x":291,"y":0.97},{"s":"a","x":293,"y":0.99},{"s":"a","x":294,"y":1},
{"s":"b","x":1,"y":0.002},{"s":"b","x":5,"y":0.002},{"s":"b","x":9,"y":0.002},{"s":"b","x":13,"y":0.002},{"s":"b","x":17,"y":0.002},{"s":"b","x":21,"y":0.002},{"s":"b","x":25,"y":0.002},{"s":"b","x":29,"y":0.002},{"s":"b","x":33,"y":0.002},{"s":"b","x":37,"y":0.002},{"s":"b","x":41,"y":0.002},{"s":"b","x":45,"y":0.002},{"s":"b","x":49,"y":0.002},{"s":"b","x":53,"y":0.002},{"s":"b","x":57,"y":0.002},{"s":"b","x":61,"y":0.002},{"s":"b","x":65,"y":0.002},{"s":"b","x":69,"y":0.002},{"s":"b","x":73,"y":0.002},{"s":"b","x":77,"y":0.003},{"s":"b","x":81,"y":0.003},{"s":"b","x":85,"y":0.003},{"s":"b","x":89,"y":0.003},{"s":"b","x":93,"y":0.004},{"s":"b","x":97,"y":0.004},{"s":"b","x":101,"y":0.004},{"s":"b","x":105,"y":0.004},{"s":"b","x":109,"y":0.005},{"s":"b","x":113,"y":0.006},{"s":"b","x":117,"y":0.006},{"s":"b","x":121,"y":0.007},{"s":"b","x":125,"y":0.008},{"s":"b","x":129,"y":0.009},{"s":"b","x":133,"y":0.01},{"s":"b","x":137,"y":0.01},{"s":"b","x":141,"y":0.011},{"s":"b","x":145,"y":0.012},{"s":"b","x":149,"y":0.013},{"s":"b","x":153,"y":0.014},{"s":"b","x":157,"y":0.016},{"s":"b","x":161,"y":0.018},{"s":"b","x":165,"y":0.019},{"s":"b","x":169,"y":0.02},{"s":"b","x":173,"y":0.022},{"s":"b","x":177,"y":0.025},{"s":"b","x":181,"y":0.027},{"s":"b","x":185,"y":0.03},{"s":"b","x":189,"y":0.032},{"s":"b","x":193,"y":0.035},{"s":"b","x":197,"y":0.04},{"s":"b","x":204,"y":0.045},{"s":"b","x":208,"y":0.05},{"s":"b","x":212,"y":0.055},{"s":"b","x":216,"y":0.06},{"s":"b","x":220,"y":0.07},{"s":"b","x":224,"y":0.075},{"s":"b","x":228,"y":0.08},{"s":"b","x":232,"y":0.09},{"s":"b","x":236,"y":0.11},{"s":"b","x":238,"y":0.13},{"s":"b","x":240,"y":0.16},{"s":"b","x":243,"y":0.19},{"s":"b","x":246,"y":0.21},{"s":"b","x":248,"y":0.24},{"s":"b","x":250,"y":0.28},{"s":"b","x":252,"y":0.31},{"s":"b","x":254,"y":0.34},{"s":"b","x":256,"y":0.37},{"s":"b","x":258,"y":0.39},{"s":"b","x":260,"y":0.41},{"s":"b","x":262,"y":0.42},{"s":"b","x":264,"y":0.43},{"s":"b","x":266,"y":0.44},{"s":"b","x":268,"y":0.46},{"s":"b","x":270,"y":0.49},{"s":"b","x":272,"y":0.52},{"s":"b","x":274,"y":0.56},{"s":"b","x":275,"y":0.6},{"s":"b","x":277,"y":0.67},{"s":"b","x":279,"y":0.7},{"s":"b","x":280,"y":0.73},{"s":"b","x":282,"y":0.77},{"s":"b","x":283,"y":0.8},{"s":"b","x":285,"y":0.86},{"s":"b","x":287,"y":0.89},{"s":"b","x":288,"y":0.91},{"s":"b","x":290,"y":0.94},{"s":"b","x":291,"y":0.96},{"s":"b","x":293,"y":0.98},{"s":"b","x":294,"y":1},
{"s":"c","x":1,"y":0},{"s":"c","x":6,"y":0.001},{"s":"c","x":11,"y":0.002},{"s":"c","x":16,"y":0.002},{"s":"c","x":21,"y":0.003},{"s":"c","x":26,"y":0.004},{"s":"c","x":31,"y":0.005},{"s":"c","x":36,"y":0.006},{"s":"c","x":41,"y":0.007},{"s":"c","x":46,"y":0.008},{"s":"c","x":51,"y":0.01},{"s":"c","x":56,"y":0.012},{"s":"c","x":61,"y":0.014},{"s":"c","x":66,"y":0.017},{"s":"c","x":70,"y":0.02},{"s":"c","x":74,"y":0.024},{"s":"c","x":78,"y":0.028},{"s":"c","x":82,"y":0.032},{"s":"c","x":86,"y":0.037},{"s":"c","x":90,"y":0.042},{"s":"c","x":94,"y":0.048},{"s":"c","x":97,"y":0.055},{"s":"c","x":100,"y":0.065},{"s":"c","x":102,"y":0.08},{"s":"c","x":104,"y":0.1},{"s":"c","x":106,"y":0.13},{"s":"c","x":107,"y":0.15},{"s":"c","x":108,"y":0.18},{"s":"c","x":109,"y":0.2},{"s":"c","x":110,"y":0.22},{"s":"c","x":111,"y":0.24},{"s":"c","x":112,"y":0.25},{"s":"c","x":113,"y":0.26},{"s":"c","x":114,"y":0.27},{"s":"c","x":115,"y":0.28},{"s":"c","x":116,"y":0.3},{"s":"c","x":117,"y":0.48},{"s":"c","x":118,"y":0.49},{"s":"c","x":119,"y":0.5},{"s":"c","x":120,"y":0.52},{"s":"c","x":121,"y":0.55},{"s":"c","x":122,"y":0.6},{"s":"c","x":123,"y":0.62},{"s":"c","x":124,"y":0.645},{"s":"c","x":125,"y":0.78},{"s":"c","x":126,"y":0.8},{"s":"c","x":127,"y":0.86},{"s":"c","x":128,"y":0.88},{"s":"c","x":129,"y":0.9},{"s":"c","x":130,"y":0.92},{"s":"c","x":131,"y":0.93},{"s":"c","x":133,"y":0.935},{"s":"c","x":135,"y":0.94},{"s":"c","x":138,"y":0.945},{"s":"c","x":141,"y":0.95},{"s":"c","x":144,"y":0.955},{"s":"c","x":147,"y":0.96},{"s":"c","x":151,"y":0.965},{"s":"c","x":155,"y":0.97},{"s":"c","x":160,"y":0.975},{"s":"c","x":165,"y":0.978},{"s":"c","x":170,"y":0.981},{"s":"c","x":175,"y":0.984},{"s":"c","x":180,"y":0.987},{"s":"c","x":186,"y":0.99},{"s":"c","x":192,"y":0.992},{"s":"c","x":198,"y":0.994},{"s":"c","x":204,"y":0.996},{"s":"c","x":210,"y":0.997},{"s":"c","x":216,"y":0.998},{"s":"c","x":222,"y":0.999},{"s":"c","x":228,"y":0.999},{"s":"c","x":234,"y":0.999},{"s":"c","x":240,"y":0.999},{"s":"c","x":246,"y":0.999},{"s":"c","x":252,"y":0.999},{"s":"c","x":258,"y":0.999},{"s":"c","x":264,"y":0.999},{"s":"c","x":270,"y":0.999},{"s":"c","x":276,"y":0.999},{"s":"c","x":282,"y":0.999},{"s":"c","x":288,"y":0.999},{"s":"c","x":294,"y":1},
{"s":"d","x":1,"y":0},{"s":"d","x":4,"y":0.005},{"s":"d","x":7,"y":0.01},{"s":"d","x":10,"y":0.014},{"s":"d","x":13,"y":0.018},{"s":"d","x":16,"y":0.022},{"s":"d","x":19,"y":0.028},{"s":"d","x":22,"y":0.035},{"s":"d","x":25,"y":0.042},{"s":"d","x":28,"y":0.05},{"s":"d","x":31,"y":0.058},{"s":"d","x":34,"y":0.065},{"s":"d","x":37,"y":0.072},{"s":"d","x":40,"y":0.08},{"s":"d","x":44,"y":0.088},{"s":"d","x":48,"y":0.095},{"s":"d","x":52,"y":0.102},{"s":"d","x":56,"y":0.108},{"s":"d","x":60,"y":0.115},{"s":"d","x":64,"y":0.12},{"s":"d","x":68,"y":0.125},{"s":"d","x":72,"y":0.13},{"s":"d","x":76,"y":0.137},{"s":"d","x":80,"y":0.145},{"s":"d","x":83,"y":0.16},{"s":"d","x":86,"y":0.175},{"s":"d","x":89,"y":0.19},{"s":"d","x":92,"y":0.205},{"s":"d","x":95,"y":0.215},{"s":"d","x":98,"y":0.225},{"s":"d","x":101,"y":0.235},{"s":"d","x":104,"y":0.245},{"s":"d","x":107,"y":0.255},{"s":"d","x":110,"y":0.265},{"s":"d","x":113,"y":0.275},{"s":"d","x":116,"y":0.285},{"s":"d","x":119,"y":0.295},{"s":"d","x":122,"y":0.305},{"s":"d","x":125,"y":0.31},{"s":"d","x":128,"y":0.32},{"s":"d","x":131,"y":0.327},{"s":"d","x":134,"y":0.333},{"s":"d","x":137,"y":0.34},{"s":"d","x":140,"y":0.347},{"s":"d","x":143,"y":0.355},{"s":"d","x":146,"y":0.37},{"s":"d","x":149,"y":0.39},{"s":"d","x":152,"y":0.41},{"s":"d","x":155,"y":0.425},{"s":"d","x":158,"y":0.435},{"s":"d","x":161,"y":0.445},{"s":"d","x":164,"y":0.455},{"s":"d","x":167,"y":0.465},{"s":"d","x":170,"y":0.475},{"s":"d","x":173,"y":0.49},{"s":"d","x":176,"y":0.505},{"s":"d","x":179,"y":0.515},{"s":"d","x":182,"y":0.522},{"s":"d","x":185,"y":0.528},{"s":"d","x":188,"y":0.535},{"s":"d","x":191,"y":0.542},{"s":"d","x":194,"y":0.55},{"s":"d","x":197,"y":0.56},{"s":"d","x":200,"y":0.575},{"s":"d","x":203,"y":0.585},{"s":"d","x":206,"y":0.595},{"s":"d","x":209,"y":0.605},{"s":"d","x":212,"y":0.615},{"s":"d","x":215,"y":0.625},{"s":"d","x":218,"y":0.635},{"s":"d","x":221,"y":0.645},{"s":"d","x":224,"y":0.655},{"s":"d","x":227,"y":0.665},{"s":"d","x":230,"y":0.675},{"s":"d","x":233,"y":0.685},{"s":"d","x":236,"y":0.693},{"s":"d","x":239,"y":0.7},{"s":"d","x":242,"y":0.71},{"s":"d","x":245,"y":0.72},{"s":"d","x":248,"y":0.73},{"s":"d","x":251,"y":0.74},{"s":"d","x":254,"y":0.75},{"s":"d","x":257,"y":0.757},{"s":"d","x":260,"y":0.762},{"s":"d","x":263,"y":0.767},{"s":"d","x":266,"y":0.772},{"s":"d","x":269,"y":0.777},{"s":"d","x":272,"y":0.783},{"s":"d","x":275,"y":0.79},{"s":"d","x":278,"y":0.8},{"s":"d","x":280,"y":0.81},{"s":"d","x":282,"y":0.82},{"s":"d","x":284,"y":0.835},{"s":"d","x":286,"y":0.85},{"s":"d","x":288,"y":0.87},{"s":"d","x":290,"y":0.89},{"s":"d","x":292,"y":0.91},{"s":"d","x":293,"y":0.92},{"s":"d","x":294,"y":0.94}
],
"F":[
{"s":"a","x":1,"y":0},{"s":"a","x":13,"y":0},{"s":"a","x":25,"y":0},{"s":"a","x":37,"y":0},{"s":"a","x":49,"y":0},{"s":"a","x":61,"y":0},{"s":"a","x":73,"y":0},{"s":"a","x":85,"y":0},{"s":"a","x":97,"y":0},{"s":"a","x":109,"y":0},{"s":"a","x":121,"y":0},{"s":"a","x":133,"y":0},{"s":"a","x":145,"y":0},{"s":"a","x":157,"y":0},{"s":"a","x":169,"y":0},{"s":"a","x":181,"y":0},{"s":"a","x":190,"y":0.002},{"s":"a","x":200,"y":0.004},{"s":"a","x":210,"y":0.006},{"s":"a","x":218,"y":0.008},{"s":"a","x":224,"y":0.01},{"s":"a","x":228,"y":0.013},{"s":"a","x":232,"y":0.017},{"s":"a","x":236,"y":0.022},{"s":"a","x":239,"y":0.028},{"s":"a","x":242,"y":0.035},{"s":"a","x":245,"y":0.042},{"s":"a","x":248,"y":0.05},{"s":"a","x":250,"y":0.06},{"s":"a","x":252,"y":0.075},{"s":"a","x":254,"y":0.1},{"s":"a","x":256,"y":0.12},{"s":"a","x":258,"y":0.16},{"s":"a","x":260,"y":0.21},{"s":"a","x":262,"y":0.23},{"s":"a","x":264,"y":0.26},{"s":"a","x":266,"y":0.285},{"s":"a","x":268,"y":0.31},{"s":"a","x":270,"y":0.36},{"s":"a","x":272,"y":0.39},{"s":"a","x":273,"y":0.42},{"s":"a","x":274,"y":0.47},{"s":"a","x":276,"y":0.55},{"s":"a","x":277,"y":0.6},{"s":"a","x":278,"y":0.67},{"s":"a","x":279,"y":0.7},{"s":"a","x":280,"y":0.75},{"s":"a","x":282,"y":0.79},{"s":"a","x":284,"y":0.86},{"s":"a","x":286,"y":0.9},{"s":"a","x":288,"y":0.92},{"s":"a","x":289,"y":0.94},{"s":"a","x":291,"y":0.96},{"s":"a","x":293,"y":0.98},{"s":"a","x":294,"y":1},
{"s":"b","x":1,"y":0.002},{"s":"b","x":5,"y":0.002},{"s":"b","x":9,"y":0.002},{"s":"b","x":13,"y":0.002},{"s":"b","x":17,"y":0.002},{"s":"b","x":21,"y":0.002},{"s":"b","x":25,"y":0.002},{"s":"b","x":29,"y":0.002},{"s":"b","x":33,"y":0.002},{"s":"b","x":37,"y":0.002},{"s":"b","x":41,"y":0.002},{"s":"b","x":45,"y":0.002},{"s":"b","x":49,"y":0.002},{"s":"b","x":53,"y":0.002},{"s":"b","x":57,"y":0.002},{"s":"b","x":61,"y":0.002},{"s":"b","x":65,"y":0.002},{"s":"b","x":69,"y":0.002},{"s":"b","x":73,"y":0.002},{"s":"b","x":77,"y":0.002},{"s":"b","x":81,"y":0.002},{"s":"b","x":85,"y":0.002},{"s":"b","x":89,"y":0.002},{"s":"b","x":93,"y":0.002},{"s":"b","x":97,"y":0.002},{"s":"b","x":101,"y":0.003},{"s":"b","x":105,"y":0.003},{"s":"b","x":109,"y":0.003},{"s":"b","x":113,"y":0.004},{"s":"b","x":117,"y":0.004},{"s":"b","x":121,"y":0.004},{"s":"b","x":125,"y":0.004},{"s":"b","x":129,"y":0.005},{"s":"b","x":133,"y":0.005},{"s":"b","x":137,"y":0.005},{"s":"b","x":141,"y":0.005},{"s":"b","x":145,"y":0.005},{"s":"b","x":149,"y":0.006},{"s":"b","x":153,"y":0.006},{"s":"b","x":157,"y":0.006},{"s":"b","x":161,"y":0.007},{"s":"b","x":165,"y":0.007},{"s":"b","x":169,"y":0.007},{"s":"b","x":173,"y":0.008},{"s":"b","x":177,"y":0.008},{"s":"b","x":181,"y":0.008},{"s":"b","x":185,"y":0.009},{"s":"b","x":189,"y":0.009},{"s":"b","x":192,"y":0.01},{"s":"b","x":198,"y":0.012},{"s":"b","x":204,"y":0.014},{"s":"b","x":210,"y":0.016},{"s":"b","x":215,"y":0.018},{"s":"b","x":220,"y":0.021},{"s":"b","x":225,"y":0.025},{"s":"b","x":229,"y":0.03},{"s":"b","x":233,"y":0.035},{"s":"b","x":237,"y":0.04},{"s":"b","x":240,"y":0.045},{"s":"b","x":243,"y":0.05},{"s":"b","x":246,"y":0.06},{"s":"b","x":248,"y":0.07},{"s":"b","x":250,"y":0.08},{"s":"b","x":252,"y":0.1},{"s":"b","x":254,"y":0.12},{"s":"b","x":256,"y":0.15},{"s":"b","x":258,"y":0.18},{"s":"b","x":260,"y":0.23},{"s":"b","x":262,"y":0.25},{"s":"b","x":264,"y":0.27},{"s":"b","x":265,"y":0.28},{"s":"b","x":266,"y":0.36},{"s":"b","x":267,"y":0.38},{"s":"b","x":268,"y":0.41},{"s":"b","x":270,"y":0.44},{"s":"b","x":271,"y":0.47},{"s":"b","x":272,"y":0.52},{"s":"b","x":273,"y":0.58},{"s":"b","x":274,"y":0.6},{"s":"b","x":275,"y":0.64},{"s":"b","x":276,"y":0.66},{"s":"b","x":277,"y":0.68},{"s":"b","x":279,"y":0.74},{"s":"b","x":280,"y":0.78},{"s":"b","x":282,"y":0.83},{"s":"b","x":284,"y":0.86},{"s":"b","x":286,"y":0.9},{"s":"b","x":288,"y":0.92},{"s":"b","x":290,"y":0.94},{"s":"b","x":292,"y":0.97},{"s":"b","x":293,"y":0.98},{"s":"b","x":294,"y":1},
{"s":"c","x":1,"y":0},{"s":"c","x":6,"y":0},{"s":"c","x":11,"y":0.001},{"s":"c","x":16,"y":0.001},{"s":"c","x":21,"y":0.002},{"s":"c","x":26,"y":0.002},{"s":"c","x":31,"y":0.003},{"s":"c","x":36,"y":0.004},{"s":"c","x":41,"y":0.005},{"s":"c","x":46,"y":0.006},{"s":"c","x":51,"y":0.008},{"s":"c","x":56,"y":0.01},{"s":"c","x":60,"y":0.012},{"s":"c","x":64,"y":0.015},{"s":"c","x":68,"y":0.018},{"s":"c","x":72,"y":0.022},{"s":"c","x":76,"y":0.027},{"s":"c","x":80,"y":0.033},{"s":"c","x":83,"y":0.04},{"s":"c","x":86,"y":0.047},{"s":"c","x":89,"y":0.055},{"s":"c","x":91,"y":0.065},{"s":"c","x":93,"y":0.075},{"s":"c","x":95,"y":0.085},{"s":"c","x":96,"y":0.1},{"s":"c","x":97,"y":0.13},{"s":"c","x":98,"y":0.16},{"s":"c","x":99,"y":0.19},{"s":"c","x":100,"y":0.23},{"s":"c","x":101,"y":0.26},{"s":"c","x":102,"y":0.3},{"s":"c","x":103,"y":0.32},{"s":"c","x":104,"y":0.35},{"s":"c","x":105,"y":0.37},{"s":"c","x":106,"y":0.39},{"s":"c","x":107,"y":0.41},{"s":"c","x":108,"y":0.42},{"s":"c","x":109,"y":0.43},{"s":"c","x":110,"y":0.55},{"s":"c","x":111,"y":0.6},{"s":"c","x":112,"y":0.64},{"s":"c","x":113,"y":0.68},{"s":"c","x":114,"y":0.69},{"s":"c","x":116,"y":0.82},{"s":"c","x":117,"y":0.83},{"s":"c","x":118,"y":0.86},{"s":"c","x":119,"y":0.875},{"s":"c","x":120,"y":0.885},{"s":"c","x":122,"y":0.91},{"s":"c","x":124,"y":0.925},{"s":"c","x":126,"y":0.935},{"s":"c","x":129,"y":0.945},{"s":"c","x":132,"y":0.953},{"s":"c","x":135,"y":0.96},{"s":"c","x":138,"y":0.965},{"s":"c","x":141,"y":0.97},{"s":"c","x":145,"y":0.975},{"s":"c","x":149,"y":0.978},{"s":"c","x":153,"y":0.981},{"s":"c","x":158,"y":0.984},{"s":"c","x":163,"y":0.987},{"s":"c","x":168,"y":0.99},{"s":"c","x":174,"y":0.992},{"s":"c","x":180,"y":0.994},{"s":"c","x":186,"y":0.995},{"s":"c","x":192,"y":0.996},{"s":"c","x":198,"y":0.997},{"s":"c","x":204,"y":0.998},{"s":"c","x":210,"y":0.999},{"s":"c","x":216,"y":0.999},{"s":"c","x":222,"y":0.999},{"s":"c","x":228,"y":0.999},{"s":"c","x":234,"y":0.999},{"s":"c","x":240,"y":0.999},{"s":"c","x":246,"y":0.999},{"s":"c","x":252,"y":0.999},{"s":"c","x":258,"y":0.999},{"s":"c","x":264,"y":0.999},{"s":"c","x":270,"y":0.999},{"s":"c","x":276,"y":0.999},{"s":"c","x":282,"y":0.999},{"s":"c","x":288,"y":0.999},{"s":"c","x":294,"y":1},
{"s":"d","x":1,"y":0},{"s":"d","x":5,"y":0.002},{"s":"d","x":10,"y":0.004},{"s":"d","x":15,"y":0.005},{"s":"d","x":20,"y":0.007},{"s":"d","x":25,"y":0.009},{"s":"d","x":30,"y":0.011},{"s":"d","x":35,"y":0.013},{"s":"d","x":40,"y":0.016},{"s":"d","x":45,"y":0.02},{"s":"d","x":50,"y":0.024},{"s":"d","x":55,"y":0.028},{"s":"d","x":60,"y":0.033},{"s":"d","x":65,"y":0.038},{"s":"d","x":70,"y":0.044},{"s":"d","x":75,"y":0.05},{"s":"d","x":80,"y":0.058},{"s":"d","x":85,"y":0.066},{"s":"d","x":90,"y":0.073},{"s":"d","x":95,"y":0.08},{"s":"d","x":100,"y":0.087},{"s":"d","x":105,"y":0.092},{"s":"d","x":110,"y":0.098},{"s":"d","x":115,"y":0.104},{"s":"d","x":120,"y":0.11},{"s":"d","x":125,"y":0.117},{"s":"d","x":130,"y":0.125},{"s":"d","x":135,"y":0.135},{"s":"d","x":140,"y":0.145},{"s":"d","x":145,"y":0.157},{"s":"d","x":150,"y":0.17},{"s":"d","x":154,"y":0.18},{"s":"d","x":158,"y":0.19},{"s":"d","x":162,"y":0.205},{"s":"d","x":166,"y":0.22},{"s":"d","x":170,"y":0.24},{"s":"d","x":174,"y":0.255},{"s":"d","x":178,"y":0.27},{"s":"d","x":182,"y":0.29},{"s":"d","x":186,"y":0.305},{"s":"d","x":190,"y":0.325},{"s":"d","x":193,"y":0.34},{"s":"d","x":196,"y":0.36},{"s":"d","x":199,"y":0.375},{"s":"d","x":202,"y":0.385},{"s":"d","x":205,"y":0.395},{"s":"d","x":208,"y":0.405},{"s":"d","x":211,"y":0.415},{"s":"d","x":214,"y":0.425},{"s":"d","x":217,"y":0.435},{"s":"d","x":220,"y":0.445},{"s":"d","x":223,"y":0.46},{"s":"d","x":226,"y":0.475},{"s":"d","x":229,"y":0.495},{"s":"d","x":232,"y":0.51},{"s":"d","x":235,"y":0.525},{"s":"d","x":238,"y":0.54},{"s":"d","x":241,"y":0.555},{"s":"d","x":244,"y":0.57},{"s":"d","x":247,"y":0.585},{"s":"d","x":250,"y":0.595},{"s":"d","x":253,"y":0.61},{"s":"d","x":256,"y":0.63},{"s":"d","x":259,"y":0.65},{"s":"d","x":262,"y":0.675},{"s":"d","x":265,"y":0.695},{"s":"d","x":268,"y":0.71},{"s":"d","x":271,"y":0.722},{"s":"d","x":274,"y":0.732},{"s":"d","x":277,"y":0.745},{"s":"d","x":280,"y":0.76},{"s":"d","x":283,"y":0.78},{"s":"d","x":285,"y":0.8},{"s":"d","x":287,"y":0.825},{"s":"d","x":289,"y":0.85},{"s":"d","x":291,"y":0.875},{"s":"d","x":292,"y":0.89},{"s":"d","x":293,"y":0.91},{"s":"d","x":294,"y":0.93}
]
},
"columns":3,
"spacing":{"row":82,"column":83},
"bounds":"flush",
"resolve":{"scale":{"x":"independent","y":"independent","color":"independent","shape":"independent","stroke":"independent","size":"independent","opacity":"independent"},"legend":{"color":"independent","shape":"independent","stroke":"independent"}},
"concat":[
{"data":{"name":"A"},"width":350,"height":234,"title":"(A)","mark":{"type":"point","filled":true,"strokeWidth":1},
"encoding":{
"x":{"field":"x","type":"quantitative","title":"Sentences","scale":{"domain":[-13.65,308.65],"nice":false,"zero":false},"axis":{"values":[0,50,100,150,200,247,294],"labelExpr":"datum.value==50||datum.value==150||datum.value==247?'':datum.label","gridWidth":{"condition":{"test":"datum.value==50||datum.value==150||datum.value==247","value":0.55},"value":1.1},"tickOpacity":{"condition":{"test":"datum.value==50||datum.value==150||datum.value==247","value":0},"value":1}}},
"y":{"field":"y","type":"quantitative","title":"Probability","scale":{"domain":[-0.03,1.047],"nice":false,"zero":false},"axis":{"values":[0,0.125,0.25,0.375,0.5,0.625,0.75,0.875,1],"format":".2f","labelExpr":"datum.value==0.125||datum.value==0.375||datum.value==0.625||datum.value==0.875?'':datum.label","gridWidth":{"condition":{"test":"datum.value==0.125||datum.value==0.375||datum.value==0.625||datum.value==0.875","value":0.55},"value":1.1},"tickOpacity":{"condition":{"test":"datum.value==0.125||datum.value==0.375||datum.value==0.625||datum.value==0.875","value":0},"value":1}}},
"color":{"field":"s","type":"nominal","scale":{"domain":["a","b","c","d"],"range":["#1B9E77","#D95F02","#7570B3","#E7298A"]},"legend":{"title":null,"orient":"none","legendX":6,"legendY":-25,"direction":"horizontal","labelExpr":"datum.label=='a'?'KM-BERT':datum.label=='b'?'KM-BERT-vocab':datum.label=='c'?'KR-BERT':'M-BERT'"}},
"shape":{"field":"s","type":"nominal","scale":{"domain":["a","b","c","d"],"range":["circle","triangle-up","square","M-1,0L1,0M0,-1L0,1"]},"legend":{"title":null,"orient":"none","legendX":6,"legendY":-25,"direction":"horizontal","labelExpr":"datum.label=='a'?'KM-BERT':datum.label=='b'?'KM-BERT-vocab':datum.label=='c'?'KR-BERT':'M-BERT'"}},
"stroke":{"field":"s","type":"nominal","scale":{"domain":["a","b","c","d"],"range":["#1B9E77","#D95F02","#7570B3","#E7298A"]},"legend":{"title":null,"orient":"none","legendX":6,"legendY":-25,"direction":"horizontal","labelExpr":"datum.label=='a'?'KM-BERT':datum.label=='b'?'KM-BERT-vocab':datum.label=='c'?'KR-BERT':'M-BERT'"}},
"size":{"field":"s","type":"nominal","scale":{"domain":["a","b","c","d"],"range":[20,34,26,100]},"legend":null},
"opacity":{"field":"s","type":"nominal","scale":{"domain":["a","b","c","d"],"range":[1,1,1,0.55]},"legend":null}
}},
{"data":{"name":"B"},"width":350,"height":234,"title":"(B)","mark":{"type":"point","filled":true,"strokeWidth":1},
"encoding":{
"x":{"field":"x","type":"quantitative","title":"Sentences","scale":{"domain":[-13.65,308.65],"nice":false,"zero":false},"axis":{"values":[0,50,100,150,200,247,294],"labelExpr":"datum.value==50||datum.value==150||datum.value==247?'':datum.label","gridWidth":{"condition":{"test":"datum.value==50||datum.value==150||datum.value==247","value":0.55},"value":1.1},"tickOpacity":{"condition":{"test":"datum.value==50||datum.value==150||datum.value==247","value":0},"value":1}}},
"y":{"field":"y","type":"quantitative","title":"Probability","scale":{"domain":[-0.05,1.05],"nice":false,"zero":false},"axis":{"values":[0,0.125,0.25,0.375,0.5,0.625,0.75,0.875,1],"format":".2f","labelExpr":"datum.value==0.125||datum.value==0.375||datum.value==0.625||datum.value==0.875?'':datum.label","gridWidth":{"condition":{"test":"datum.value==0.125||datum.value==0.375||datum.value==0.625||datum.value==0.875","value":0.55},"value":1.1},"tickOpacity":{"condition":{"test":"datum.value==0.125||datum.value==0.375||datum.value==0.625||datum.value==0.875","value":0},"value":1}}},
"color":{"field":"s","type":"nominal","scale":{"domain":["a","b","c","d"],"range":["#1B9E77","#D95F02","#7570B3","#E7298A"]},"legend":{"title":null,"orient":"none","legendX":6,"legendY":-25,"direction":"horizontal","labelExpr":"datum.label=='a'?'KM-BERT':datum.label=='b'?'KM-BERT-vocab':datum.label=='c'?'KR-BERT':'M-BERT'"}},
"shape":{"field":"s","type":"nominal","scale":{"domain":["a","b","c","d"],"range":["circle","triangle-up","square","M-1,0L1,0M0,-1L0,1"]},"legend":{"title":null,"orient":"none","legendX":6,"legendY":-25,"direction":"horizontal","labelExpr":"datum.label=='a'?'KM-BERT':datum.label=='b'?'KM-BERT-vocab':datum.label=='c'?'KR-BERT':'M-BERT'"}},
"stroke":{"field":"s","type":"nominal","scale":{"domain":["a","b","c","d"],"range":["#1B9E77","#D95F02","#7570B3","#E7298A"]},"legend":{"title":null,"orient":"none","legendX":6,"legendY":-25,"direction":"horizontal","labelExpr":"datum.label=='a'?'KM-BERT':datum.label=='b'?'KM-BERT-vocab':datum.label=='c'?'KR-BERT':'M-BERT'"}},
"size":{"field":"s","type":"nominal","scale":{"domain":["a","b","c","d"],"range":[20,34,26,100]},"legend":null},
"opacity":{"field":"s","type":"nominal","scale":{"domain":["a","b","c","d"],"range":[1,1,1,0.55]},"legend":null}
}},
{"data":{"name":"C"},"width":350,"height":234,"title":"(C)","mark":{"type":"point","filled":true,"strokeWidth":1},
"encoding":{
"x":{"field":"x","type":"quantitative","title":"Sentences","scale":{"domain":[-13.65,308.65],"nice":false,"zero":false},"axis":{"values":[0,50,100,150,200,247,294],"labelExpr":"datum.value==50||datum.value==150||datum.value==247?'':datum.label","gridWidth":{"condition":{"test":"datum.value==50||datum.value==150||datum.value==247","value":0.55},"value":1.1},"tickOpacity":{"condition":{"test":"datum.value==50||datum.value==150||datum.value==247","value":0},"value":1}}},
"y":{"field":"y","type":"quantitative","title":"Probability","scale":{"domain":[-0.05,1.05],"nice":false,"zero":false},"axis":{"values":[0,0.125,0.25,0.375,0.5,0.625,0.75,0.875,1],"format":".2f","labelExpr":"datum.value==0.125||datum.value==0.375||datum.value==0.625||datum.value==0.875?'':datum.label","gridWidth":{"condition":{"test":"datum.value==0.125||datum.value==0.375||datum.value==0.625||datum.value==0.875","value":0.55},"value":1.1},"tickOpacity":{"condition":{"test":"datum.value==0.125||datum.value==0.375||datum.value==0.625||datum.value==0.875","value":0},"value":1}}},
"color":{"field":"s","type":"nominal","scale":{"domain":["a","b","c","d"],"range":["#1B9E77","#D95F02","#7570B3","#E7298A"]},"legend":{"title":null,"orient":"none","legendX":6,"legendY":-25,"direction":"horizontal","labelExpr":"datum.label=='a'?'KM-BERT':datum.label=='b'?'KM-BERT-vocab':datum.label=='c'?'KR-BERT':'M-BERT'"}},
"shape":{"field":"s","type":"nominal","scale":{"domain":["a","b","c","d"],"range":["circle","triangle-up","square","M-1,0L1,0M0,-1L0,1"]},"legend":{"title":null,"orient":"none","legendX":6,"legendY":-25,"direction":"horizontal","labelExpr":"datum.label=='a'?'KM-BERT':datum.label=='b'?'KM-BERT-vocab':datum.label=='c'?'KR-BERT':'M-BERT'"}},
"stroke":{"field":"s","type":"nominal","scale":{"domain":["a","b","c","d"],"range":["#1B9E77","#D95F02","#7570B3","#E7298A"]},"legend":{"title":null,"orient":"none","legendX":6,"legendY":-25,"direction":"horizontal","labelExpr":"datum.label=='a'?'KM-BERT':datum.label=='b'?'KM-BERT-vocab':datum.label=='c'?'KR-BERT':'M-BERT'"}},
"size":{"field":"s","type":"nominal","scale":{"domain":["a","b","c","d"],"range":[20,34,26,100]},"legend":null},
"opacity":{"field":"s","type":"nominal","scale":{"domain":["a","b","c","d"],"range":[1,1,1,0.55]},"legend":null}
}},
{"data":{"name":"D"},"width":350,"height":234,"title":"(D)","mark":{"type":"point","filled":true,"strokeWidth":1},
"encoding":{
"x":{"field":"x","type":"quantitative","title":"Sentences","scale":{"domain":[-13.65,308.65],"nice":false,"zero":false},"axis":{"values":[0,50,100,150,200,247,294],"labelExpr":"datum.value==50||datum.value==150||datum.value==247?'':datum.label","gridWidth":{"condition":{"test":"datum.value==50||datum.value==150||datum.value==247","value":0.55},"value":1.1},"tickOpacity":{"condition":{"test":"datum.value==50||datum.value==150||datum.value==247","value":0},"value":1}}},
"y":{"field":"y","type":"quantitative","title":"Probability","scale":{"domain":[-0.05,1.05],"nice":false,"zero":false},"axis":{"values":[0,0.125,0.25,0.375,0.5,0.625,0.75,0.875,1],"format":".2f","labelExpr":"datum.value==0.125||datum.value==0.375||datum.value==0.625||datum.value==0.875?'':datum.label","gridWidth":{"condition":{"test":"datum.value==0.125||datum.value==0.375||datum.value==0.625||datum.value==0.875","value":0.55},"value":1.1},"tickOpacity":{"condition":{"test":"datum.value==0.125||datum.value==0.375||datum.value==0.625||datum.value==0.875","value":0},"value":1}}},
"color":{"field":"s","type":"nominal","scale":{"domain":["a","b","c","d"],"range":["#1B9E77","#D95F02","#7570B3","#E7298A"]},"legend":{"title":null,"orient":"none","legendX":6,"legendY":-25,"direction":"horizontal","labelExpr":"datum.label=='a'?'KM-BERT':datum.label=='b'?'KM-BERT-vocab':datum.label=='c'?'KR-BERT':'M-BERT'"}},
"shape":{"field":"s","type":"nominal","scale":{"domain":["a","b","c","d"],"range":["circle","triangle-up","square","M-1,0L1,0M0,-1L0,1"]},"legend":{"title":null,"orient":"none","legendX":6,"legendY":-25,"direction":"horizontal","labelExpr":"datum.label=='a'?'KM-BERT':datum.label=='b'?'KM-BERT-vocab':datum.label=='c'?'KR-BERT':'M-BERT'"}},
"stroke":{"field":"s","type":"nominal","scale":{"domain":["a","b","c","d"],"range":["#1B9E77","#D95F02","#7570B3","#E7298A"]},"legend":{"title":null,"orient":"none","legendX":6,"legendY":-25,"direction":"horizontal","labelExpr":"datum.label=='a'?'KM-BERT':datum.label=='b'?'KM-BERT-vocab':datum.label=='c'?'KR-BERT':'M-BERT'"}},
"size":{"field":"s","type":"nominal","scale":{"domain":["a","b","c","d"],"range":[20,34,26,100]},"legend":null},
"opacity":{"field":"s","type":"nominal","scale":{"domain":["a","b","c","d"],"range":[1,1,1,0.55]},"legend":null}
}},
{"data":{"name":"E"},"width":350,"height":234,"title":"(E)","mark":{"type":"point","filled":true,"strokeWidth":1},
"encoding":{
"x":{"field":"x","type":"quantitative","title":"Sentences","scale":{"domain":[-13.65,308.65],"nice":false,"zero":false},"axis":{"values":[0,50,100,150,200,247,294],"labelExpr":"datum.value==50||datum.value==150||datum.value==247?'':datum.label","gridWidth":{"condition":{"test":"datum.value==50||datum.value==150||datum.value==247","value":0.55},"value":1.1},"tickOpacity":{"condition":{"test":"datum.value==50||datum.value==150||datum.value==247","value":0},"value":1}}},
"y":{"field":"y","type":"quantitative","title":"Probability","scale":{"domain":[-0.05,1.05],"nice":false,"zero":false},"axis":{"values":[0,0.125,0.25,0.375,0.5,0.625,0.75,0.875,1],"format":".2f","labelExpr":"datum.value==0.125||datum.value==0.375||datum.value==0.625||datum.value==0.875?'':datum.label","gridWidth":{"condition":{"test":"datum.value==0.125||datum.value==0.375||datum.value==0.625||datum.value==0.875","value":0.55},"value":1.1},"tickOpacity":{"condition":{"test":"datum.value==0.125||datum.value==0.375||datum.value==0.625||datum.value==0.875","value":0},"value":1}}},
"color":{"field":"s","type":"nominal","scale":{"domain":["a","b","c","d"],"range":["#1B9E77","#D95F02","#7570B3","#E7298A"]},"legend":{"title":null,"orient":"none","legendX":6,"legendY":-25,"direction":"horizontal","labelExpr":"datum.label=='a'?'KM-BERT':datum.label=='b'?'KM-BERT-vocab':datum.label=='c'?'KR-BERT':'M-BERT'"}},
"shape":{"field":"s","type":"nominal","scale":{"domain":["a","b","c","d"],"range":["circle","triangle-up","square","M-1,0L1,0M0,-1L0,1"]},"legend":{"title":null,"orient":"none","legendX":6,"legendY":-25,"direction":"horizontal","labelExpr":"datum.label=='a'?'KM-BERT':datum.label=='b'?'KM-BERT-vocab':datum.label=='c'?'KR-BERT':'M-BERT'"}},
"stroke":{"field":"s","type":"nominal","scale":{"domain":["a","b","c","d"],"range":["#1B9E77","#D95F02","#7570B3","#E7298A"]},"legend":{"title":null,"orient":"none","legendX":6,"legendY":-25,"direction":"horizontal","labelExpr":"datum.label=='a'?'KM-BERT':datum.label=='b'?'KM-BERT-vocab':datum.label=='c'?'KR-BERT':'M-BERT'"}},
"size":{"field":"s","type":"nominal","scale":{"domain":["a","b","c","d"],"range":[20,34,26,100]},"legend":null},
"opacity":{"field":"s","type":"nominal","scale":{"domain":["a","b","c","d"],"range":[1,1,1,0.55]},"legend":null}
}},
{"data":{"name":"F"},"width":350,"height":234,"title":"(F)","mark":{"type":"point","filled":true,"strokeWidth":1},
"encoding":{
"x":{"field":"x","type":"quantitative","title":"Sentences","scale":{"domain":[-13.65,308.65],"nice":false,"zero":false},"axis":{"values":[0,50,100,150,200,247,294],"labelExpr":"datum.value==50||datum.value==150||datum.value==247?'':datum.label","gridWidth":{"condition":{"test":"datum.value==50||datum.value==150||datum.value==247","value":0.55},"value":1.1},"tickOpacity":{"condition":{"test":"datum.value==50||datum.value==150||datum.value==247","value":0},"value":1}}},
"y":{"field":"y","type":"quantitative","title":"Probability","scale":{"domain":[-0.05,1.05],"nice":false,"zero":false},"axis":{"values":[0,0.125,0.25,0.375,0.5,0.625,0.75,0.875,1],"format":".2f","labelExpr":"datum.value==0.125||datum.value==0.375||datum.value==0.625||datum.value==0.875?'':datum.label","gridWidth":{"condition":{"test":"datum.value==0.125||datum.value==0.375||datum.value==0.625||datum.value==0.875","value":0.55},"value":1.1},"tickOpacity":{"condition":{"test":"datum.value==0.125||datum.value==0.375||datum.value==0.625||datum.value==0.875","value":0},"value":1}}},
"color":{"field":"s","type":"nominal","scale":{"domain":["a","b","c","d"],"range":["#1B9E77","#D95F02","#7570B3","#E7298A"]},"legend":{"title":null,"orient":"none","legendX":6,"legendY":-25,"direction":"horizontal","labelExpr":"datum.label=='a'?'KM-BERT':datum.label=='b'?'KM-BERT-vocab':datum.label=='c'?'KR-BERT':'M-BERT'"}},
"shape":{"field":"s","type":"nominal","scale":{"domain":["a","b","c","d"],"range":["circle","triangle-up","square","M-1,0L1,0M0,-1L0,1"]},"legend":{"title":null,"orient":"none","legendX":6,"legendY":-25,"direction":"horizontal","labelExpr":"datum.label=='a'?'KM-BERT':datum.label=='b'?'KM-BERT-vocab':datum.label=='c'?'KR-BERT':'M-BERT'"}},
"stroke":{"field":"s","type":"nominal","scale":{"domain":["a","b","c","d"],"range":["#1B9E77","#D95F02","#7570B3","#E7298A"]},"legend":{"title":null,"orient":"none","legendX":6,"legendY":-25,"direction":"horizontal","labelExpr":"datum.label=='a'?'KM-BERT':datum.label=='b'?'KM-BERT-vocab':datum.label=='c'?'KR-BERT':'M-BERT'"}},
"size":{"field":"s","type":"nominal","scale":{"domain":["a","b","c","d"],"range":[20,34,26,100]},"legend":null},
"opacity":{"field":"s","type":"nominal","scale":{"domain":["a","b","c","d"],"range":[1,1,1,0.55]},"legend":null}
}}
]
}
